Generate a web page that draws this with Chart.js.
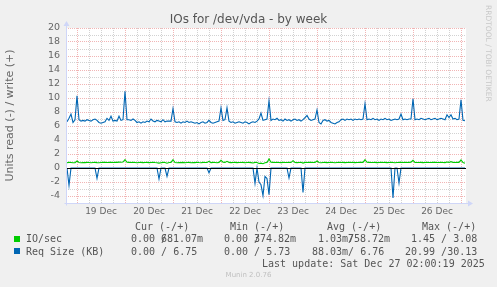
<!DOCTYPE html>
<html>
<head>
<meta charset="utf-8">
<title>IOs for /dev/vda - by week</title>
<script src="https://cdn.jsdelivr.net/npm/chart.js@4.4.1/dist/chart.umd.min.js"></script>
<style>
  html, body { margin: 0; padding: 0; background: #f0f0f0; }
  #wrap { position: relative; width: 497px; height: 287px; overflow: hidden; }
  #wrap canvas { position: absolute; left: 0; top: 0; }
  .t { position: absolute; white-space: pre; color: #666; }
  .title { left: 0; width: 497px; top: 12px; text-align: center; font: 12px "DejaVu Sans"; line-height: 14px; color: #555; }
  .mono { font: 10px "DejaVu Sans Mono"; line-height: 12px; color: #555; }
  .sq { position: absolute; width: 6px; height: 6px; }
  .rrd { left: 484px; top: 5px; writing-mode: vertical-rl; font: 7.5px "DejaVu Sans"; color: #c8c8c8; }
  .ver { left: 0; width: 497px; top: 271px; text-align: center; font: 7px "DejaVu Sans"; color: #c0c0c0; }
</style>
</head>
<body>
<div id="wrap">
  <canvas id="chart" width="497" height="287"></canvas>
  <div class="t title">IOs for /dev/vda - by week</div>
  <div class="t rrd">RRDTOOL / TOBI OETIKER</div>

  <div class="t mono" style="left:135px;top:221px">Cur (-/+)</div>
  <div class="t mono" style="left:230px;top:221px">Min (-/+)</div>
  <div class="t mono" style="left:327px;top:221px">Avg (-/+)</div>
  <div class="t mono" style="left:422px;top:221px">Max (-/+)</div>

  <div class="sq" style="left:14px;top:236px;background:#00cc00"></div>
  <div class="t mono" style="left:26px;top:233px">IO/sec</div>
  <div class="t mono" style="left:131px;top:233px">0.00 /</div>
  <div class="t mono" style="left:161px;top:233px">681.07m</div>
  <div class="t mono" style="left:224px;top:233px">0.00 /</div>
  <div class="t mono" style="left:254px;top:233px">374.82m</div>
  <div class="t mono" style="left:318px;top:233px">1.03m/</div>
  <div class="t mono" style="left:348px;top:233px">758.72m</div>
  <div class="t mono" style="left:411px;top:233px">1.45 / 3.08</div>

  <div class="sq" style="left:14px;top:248px;background:#0066b3"></div>
  <div class="t mono" style="left:26px;top:245.5px">Req Size (KB)</div>
  <div class="t mono" style="left:131px;top:245.5px">0.00 / 6.75</div>
  <div class="t mono" style="left:224px;top:245.5px">0.00 / 5.73</div>
  <div class="t mono" style="left:312px;top:245.5px">88.03m/ 6.76</div>
  <div class="t mono" style="left:405px;top:245.5px">20.99 /30.13</div>

  <div class="t mono" style="left:262px;top:258px">Last update: Sat Dec 27 02:00:19 2025</div>
  <div class="t ver">Munin 2.0.76</div>
</div>
<script>
// hourly samples, hour 19 of Dec 18 up to 02:00 on Dec 27 (hours counted from Dec 18 00:00)
const firstHour = 19;

// Req Size (KB), write (+)
const reqWrite = [
  6.6, 7.1, 7.7, 6.5, 6.9, 10.3, 6.9, 6.7, 6.8, 6.7,
  6.9, 6.8, 6.7, 6.9, 7.0, 6.8, 6.5, 6.4, 6.5, 6.6,
  7.1, 6.8, 7.4, 6.7, 6.8, 6.7, 7.4, 6.8, 6.9, 10.95,
  6.9, 6.9, 6.8, 7.0, 6.8, 6.5, 6.6, 6.4, 6.6, 6.5,
  6.7, 6.6, 7.0, 6.7, 6.6, 6.8, 6.7, 6.6, 6.9, 6.6,
  6.7, 6.7, 6.7, 8.5, 6.6, 6.5, 6.6, 6.4, 6.6, 6.5,
  6.7, 6.5, 6.6, 6.5, 6.4, 6.5, 6.3, 6.5, 6.6, 6.4,
  6.5, 6.8, 6.5, 6.4, 6.5, 6.6, 6.7, 8.6, 6.8, 6.9,
  8.6, 6.7, 6.5, 6.6, 6.4, 6.5, 6.6, 6.5, 6.4, 6.6,
  6.5, 6.3, 6.5, 6.6, 6.5, 6.7, 7.0, 7.85, 6.8, 6.9,
  7.0, 9.6, 6.8, 7.0, 6.9, 7.1, 6.8, 6.9, 6.7, 7.0,
  6.8, 6.9, 6.7, 6.9, 7.0, 6.8, 6.9, 6.7, 6.9, 7.2,
  7.5, 7.0, 6.8, 6.9, 7.0, 8.3, 6.5, 6.3, 6.8, 6.9,
  6.7, 6.8, 6.5, 6.4, 6.3, 6.5, 6.6, 6.9, 7.0, 6.8,
  7.0, 6.9, 7.0, 6.8, 7.0, 6.9, 7.0, 6.9, 7.0, 9.2,
  6.9, 7.0, 6.9, 7.1, 6.9, 7.0, 6.8, 7.0, 6.9, 7.1,
  6.9, 7.0, 6.8, 6.9, 7.0, 6.9, 7.0, 7.7, 6.9, 7.0,
  6.9, 7.0, 7.0, 9.9, 6.9, 7.0, 6.9, 7.1, 7.0, 6.9,
  7.0, 7.1, 6.9, 7.0, 7.1, 6.9, 7.0, 7.1, 7.0, 6.9,
  7.6, 7.2, 7.6, 7.0, 7.1, 6.9, 7.0, 9.75, 6.8, 6.75
];

// Req Size (KB), read (-), drawn below zero
const reqRead = [
  0, 2.48, 0, 0, 0, 0, 0, 0, 0, 0,
  0, 0, 0, 0, 0, 1.48, 0, 0, 0, 0,
  0, 0, 0, 0, 0, 0, 0, 0, 0, 0,
  0, 0, 0, 0, 0, 0, 0, 0, 0, 0,
  0, 0, 0, 0, 0, 0, 1.57, 0, 0, 0,
  1.2, 0, 0, 0, 0, 0, 0, 0, 0, 0,
  0, 0, 0, 0, 0, 0, 0, 0, 0, 0,
  0, 0.7, 0, 0, 0, 0, 0, 0, 0, 0,
  0, 0, 0, 0, 0, 0, 0, 0, 0, 0,
  0, 0, 0, 0, 2.2, 0, 2.0, 2.4, 3.95, 1.2,
  1.5, 3.8, 0, 0, 0, 0, 0, 0, 0, 0,
  0, 1.43, 0, 0, 0, 0, 0, 0, 3.48, 0,
  0, 0, 0, 0, 0, 0, 0, 0, 0, 0,
  0, 0, 0, 0, 0, 0, 0, 0, 0, 0,
  0, 0, 0, 0, 0, 0, 0, 0, 0, 0,
  0, 0, 0, 0, 0, 0, 0, 0, 0, 0,
  0, 0, 0, 4.29, 0, 0, 2.14, 0, 0, 0,
  0, 0, 0, 0, 0, 0, 0, 0, 0, 0,
  0, 0, 0, 0, 0, 0, 0, 0, 0, 0,
  0, 0, 0, 0, 0, 0, 0, 0, 0, 0
];

// IO/sec, write (+)
const ioWrite = [
  0.75, 0.8, 0.78, 0.74, 0.76, 1.0, 0.78, 0.76, 0.79, 0.77,
  0.8, 0.78, 0.76, 0.79, 0.8, 0.77, 0.75, 0.78, 0.8, 0.82,
  0.78, 0.8, 0.83, 0.79, 0.81, 0.8, 0.84, 0.82, 0.85, 1.2,
  0.82, 0.8, 0.78, 0.81, 0.79, 0.76, 0.78, 0.8, 0.77, 0.79,
  0.8, 0.77, 0.79, 0.82, 0.78, 0.76, 0.7, 0.75, 0.8, 0.78,
  0.68, 0.78, 0.8, 1.2, 0.78, 0.76, 0.79, 0.77, 0.8, 0.75,
  0.78, 0.8, 0.76, 0.79, 0.77, 0.81, 0.78, 0.76, 0.8, 0.78,
  0.79, 0.95, 0.77, 0.8, 0.78, 0.76, 0.8, 1.1, 0.82, 0.8,
  0.95, 0.8, 0.77, 0.79, 0.8, 0.77, 0.79, 0.78, 0.8, 0.76,
  0.78, 0.8, 0.77, 0.72, 0.8, 0.78, 0.65, 0.7, 0.62, 0.75,
  0.8, 1.3, 0.82, 0.8, 0.78, 0.81, 0.79, 0.77, 0.8, 0.78,
  0.79, 0.8, 0.78, 1.05, 0.8, 0.77, 0.79, 0.81, 0.7, 0.8,
  0.78, 0.8, 0.82, 0.79, 0.8, 1.0, 0.78, 0.76, 0.79, 0.8,
  0.77, 0.79, 0.8, 0.78, 0.76, 0.79, 0.8, 0.78, 0.8, 0.77,
  0.79, 0.81, 0.78, 0.8, 0.77, 0.79, 0.8, 0.82, 0.8, 1.2,
  0.82, 0.8, 0.78, 0.79, 0.8, 0.77, 0.79, 0.8, 0.78, 0.8,
  0.77, 0.79, 0.8, 0.78, 0.76, 0.79, 0.8, 0.82, 0.79, 0.8,
  0.78, 0.8, 0.82, 1.1, 0.8, 0.78, 0.79, 0.8, 0.77, 0.79,
  0.8, 0.78, 0.79, 0.81, 0.8, 0.78, 0.79, 0.8, 0.78, 0.77,
  0.85, 0.8, 0.9, 0.8, 0.78, 0.82, 0.8, 1.15, 0.78, 0.68
];

// x tick labels, placed at noon of each day
const dayLabels = ['19 Dec', '20 Dec', '21 Dec', '22 Dec', '23 Dec', '24 Dec', '25 Dec', '26 Dec'];

const hours = reqWrite.map((v, i) => firstHour + i);
const xTicks = [];
for (let h = 24; h <= 216; h += 6) xTicks.push(h);
const yTicks = [];
for (let v = -5; v <= 20; v++) yTicks.push(v);

const MAJOR = 'rgba(222,79,79,0.42)';
const MINOR = 'rgba(143,143,143,0.4)';
const AXIS = '#cfd6f8';

const canvasBg = {
  id: 'canvasBg',
  beforeDraw(chart) {
    const { ctx, chartArea: a } = chart;
    ctx.save();
    ctx.fillStyle = '#ffffff';
    ctx.fillRect(a.left, a.top, a.right - a.left, a.bottom - a.top);
    ctx.restore();
  }
};

const zeroLine = {
  id: 'zeroLine',
  afterDatasetsDraw(chart) {
    const { ctx, chartArea: a, scales } = chart;
    const y = Math.round(scales.y.getPixelForValue(0)) + 0.5;
    ctx.save();
    ctx.strokeStyle = '#000000';
    ctx.lineWidth = 1;
    ctx.beginPath();
    ctx.moveTo(a.left, y);
    ctx.lineTo(a.right, y);
    ctx.stroke();
    ctx.restore();
  }
};

const axisArrows = {
  id: 'axisArrows',
  afterDraw(chart) {
    const { ctx, chartArea: a } = chart;
    const x0 = Math.round(a.left) + 0.5;
    const y0 = Math.round(a.bottom) + 0.5;
    ctx.save();
    ctx.strokeStyle = AXIS;
    ctx.fillStyle = AXIS;
    ctx.lineWidth = 1;
    ctx.beginPath();
    ctx.moveTo(x0, y0 + 2);
    ctx.lineTo(x0, a.top - 3);
    ctx.moveTo(x0 - 2, y0);
    ctx.lineTo(a.right + 3, y0);
    ctx.stroke();
    ctx.beginPath();
    ctx.moveTo(x0, a.top - 7);
    ctx.lineTo(x0 - 3, a.top - 2);
    ctx.lineTo(x0 + 3, a.top - 2);
    ctx.closePath();
    ctx.fill();
    ctx.beginPath();
    ctx.moveTo(a.right + 7, y0);
    ctx.lineTo(a.right + 2, y0 - 3);
    ctx.lineTo(a.right + 2, y0 + 3);
    ctx.closePath();
    ctx.fill();
    ctx.restore();
  }
};

const line = (data, color) => ({
  data,
  borderColor: color,
  borderWidth: 1.1,
  pointRadius: 0,
  tension: 0,
  fill: false
});

new Chart(document.getElementById('chart'), {
  type: 'line',
  data: {
    labels: hours,
    datasets: [
      line(ioWrite, '#00cc00'),
      line(reqRead.map(v => -v), '#0066b3'),
      line(reqWrite, '#0066b3')
    ]
  },
  options: {
    responsive: false,
    animation: false,
    events: [],
    layout: { padding: { left: 0, right: 31, top: 28, bottom: 64 } },
    plugins: {
      legend: { display: false },
      tooltip: { enabled: false },
      title: { display: false }
    },
    scales: {
      x: {
        type: 'linear',
        min: 18.5,
        max: 218.5,
        afterFit: s => { s.height = 20; },
        afterBuildTicks: s => { s.ticks = xTicks.map(v => ({ value: v })); },
        grid: {
          drawTicks: false,
          lineWidth: 1,
          color: c => (c.tick && c.tick.value % 24 === 0 ? MAJOR : MINOR)
        },
        border: { display: false, dash: [1, 1] },
        ticks: {
          autoSkip: false,
          maxRotation: 0,
          minRotation: 0,
          padding: 3,
          color: '#666',
          font: { family: 'DejaVu Sans', size: 9 },
          callback: v => (v % 24 === 12 ? dayLabels[(v - 36) / 24] : '')
        }
      },
      y: {
        min: -5,
        max: 20,
        afterFit: s => { s.width = 66; },
        afterBuildTicks: s => { s.ticks = yTicks.map(v => ({ value: v })); },
        grid: {
          drawTicks: false,
          lineWidth: 1,
          color: c => {
            const v = c.tick ? c.tick.value : 0;
            if (v === -5) return 'rgba(0,0,0,0)';
            return v % 2 === 0 ? MAJOR : MINOR;
          }
        },
        border: { display: false, dash: [1, 1] },
        title: {
          display: true,
          text: 'Units read (-) / write (+)',
          color: '#666',
          font: { family: 'DejaVu Sans', size: 11 },
          padding: { top: 4, bottom: 0 }
        },
        ticks: {
          autoSkip: false,
          padding: 6,
          color: '#666',
          font: { family: 'DejaVu Sans', size: 9.5 },
          callback: v => (v % 2 === 0 && v > -5 ? String(v) : '')
        }
      }
    }
  },
  plugins: [canvasBg, zeroLine, axisArrows]
});
</script>
</body>
</html>
